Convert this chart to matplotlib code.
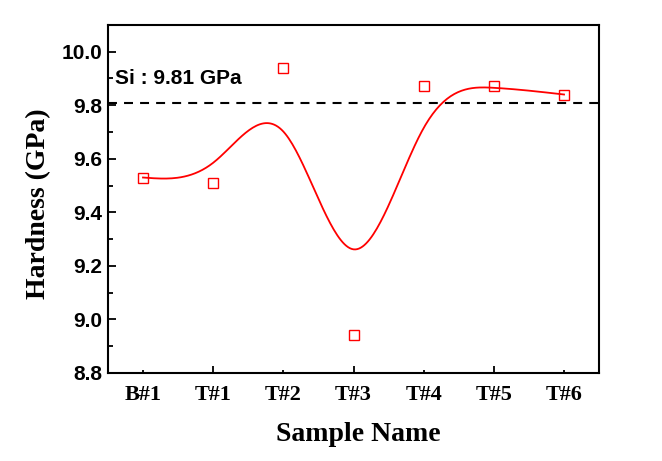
import numpy as np
import matplotlib
matplotlib.use('Agg')
import matplotlib.pyplot as plt

samples = ['B#1', 'T#1', 'T#2', 'T#3', 'T#4', 'T#5', 'T#6']
hardness = [9.53, 9.51, 9.94, 8.94, 9.87, 9.87, 9.84]
si_ref = 9.81


def bspline(py, n=40):
    # uniform cubic B-spline with the data as control points,
    # phantom end points so the curve starts/ends on the first/last point
    p = np.asarray(py, dtype=float)
    p = np.concatenate([[2 * p[0] - p[1]], p, [2 * p[-1] - p[-2]]])
    xs, ys = [], []
    for i in range(len(py) - 1):
        u = np.linspace(0, 1, n)
        b0 = (1 - u) ** 3 / 6
        b1 = (3 * u ** 3 - 6 * u ** 2 + 4) / 6
        b2 = (-3 * u ** 3 + 3 * u ** 2 + 3 * u + 1) / 6
        b3 = u ** 3 / 6
        ys.append(b0 * p[i] + b1 * p[i + 1] + b2 * p[i + 2] + b3 * p[i + 3])
        xs.append(i + u)
    return np.concatenate(xs), np.concatenate(ys)


x = np.arange(len(samples))
cx, cy = bspline(hardness)

fig = plt.figure(figsize=(6.62, 4.61), dpi=100)
ax = fig.add_axes([0.163, 0.191, 0.742, 0.755])

ax.plot(cx, cy, color='red', lw=1.3)
ax.plot(x, hardness, 's', ms=7.2, mfc='none', mec='red', mew=1.0)
ax.axhline(si_ref, color='black', lw=1.5, dashes=(4.3, 3.4))
ax.text(0.014, 0.845, 'Si : 9.81 GPa', transform=ax.transAxes, family='Liberation Sans',
        fontweight='bold', fontsize=15, va='center', ha='left')

ax.set_xlim(-0.5, 6.5)
ax.set_ylim(8.8, 10.1)

# labelled ticks: long ones on odd positions, short ones on even
ax.set_xticks([1, 3, 5], [samples[i] for i in [1, 3, 5]])
ax.set_xticks([0, 2, 4, 6], [samples[i] for i in [0, 2, 4, 6]], minor=True)
ax.set_yticks([8.8, 9.0, 9.2, 9.4, 9.6, 9.8, 10.0])
ax.set_yticks(np.arange(8.9, 10.1, 0.2), minor=True)

ax.tick_params(axis='x', which='major', direction='in', length=5, width=1.3, pad=9)
ax.tick_params(axis='x', which='minor', direction='in', length=2.5, width=1.3, pad=9)
ax.tick_params(axis='y', which='major', direction='in', length=6, width=1.3, pad=4)
ax.tick_params(axis='y', which='minor', direction='in', length=3.5, width=1.3)

for lab in ax.get_xticklabels(which='both'):
    lab.set_fontfamily('Liberation Serif')
    lab.set_fontweight('bold')
    lab.set_fontsize(16)
for lab in ax.get_yticklabels():
    lab.set_fontfamily('Liberation Sans')
    lab.set_fontweight('bold')
    lab.set_fontsize(15)

for s in ax.spines.values():
    s.set_linewidth(1.5)

ax.set_xlabel('Sample Name', family='Liberation Serif', fontweight='bold', fontsize=20)
ax.set_ylabel('Hardness (GPa)', family='Liberation Serif', fontweight='bold', fontsize=20)
ax.xaxis.set_label_coords(0.51, -0.14)
ax.yaxis.set_label_coords(-0.115, 0.486)

fig.savefig('out.png', dpi=100)
